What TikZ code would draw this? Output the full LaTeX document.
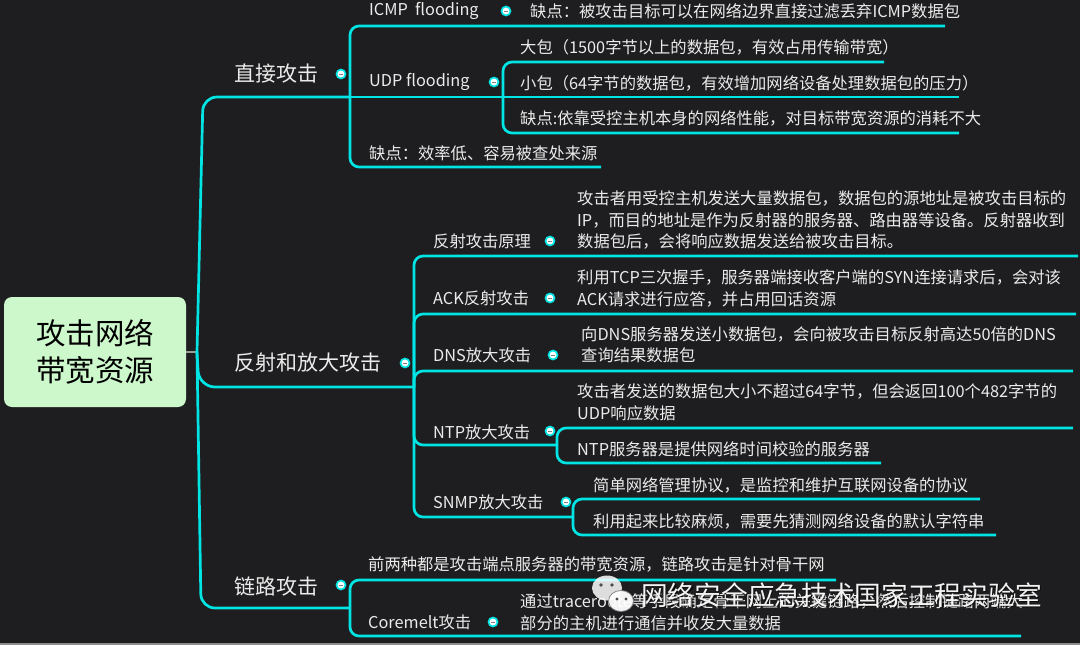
\documentclass[tikz,border=0pt]{standalone}
\usepackage{fontspec}
\setmainfont{Noto Sans CJK SC}
\usetikzlibrary{calc}
\definecolor{bg}{RGB}{30,30,32}
\definecolor{cy}{RGB}{0,228,228}
\definecolor{tx}{RGB}{235,235,235}
\definecolor{rootg}{RGB}{204,248,204}
\begin{document}
\begin{tikzpicture}[x=1pt,y=-1pt,
 br/.style={draw=cy,line width=2.7pt,rounded corners=9pt},
 lvone/.style={text=tx,font=\fontsize{21}{26}\selectfont,anchor=west,inner sep=0pt},
 lvtwo/.style={text=tx,font=\fontsize{16.3}{21.5}\selectfont,anchor=west,inner sep=0pt,align=left},
 wmark/.style={anchor=west,inner sep=0pt,font=\fontsize{26.7}{30}\selectfont},
 knob/.style={circle,fill=white,draw=cy,line width=1.7pt,minimum size=9pt,inner sep=0pt,
   path picture={\draw[gray,line width=0.8pt] ([xshift=-1.8pt]path picture bounding box.center) -- ([xshift=1.8pt]path picture bounding box.center);}}]
\useasboundingbox (0,0) rectangle (1080,645);
\fill[bg] (0,0) rectangle (1080,645);
\fill[black!45] (0,642.5) rectangle (1080,645);

% root
\node[fill=rootg,rounded corners=8pt,minimum width=182pt,minimum height=110pt,inner sep=0pt,
  align=center,font=\fontsize{29.5}{37}\selectfont,text=black] (root) at (95,352) {攻击网络\\带宽资源};

% junction coordinates
\coordinate (trunk) at (197,352);
\coordinate (b1) at (350,97);
\coordinate (bU) at (503,97);
\coordinate (b2) at (414,387);
\coordinate (bN) at (557,445);
\coordinate (bS) at (573,517);
\coordinate (b3) at (350,608);

\draw[line width=2pt,draw=gray!70!rootg] (root.east) -- (trunk);
\draw[br,rounded corners=14pt] (trunk) -- (203,97) -- (b1);
\draw[br,rounded corners=14pt] (trunk) -- (201,608) -- (b3);
\draw[br,rounded corners=16pt] (trunk) -- (199,387) -- (b2);

% direct attack bracket
\draw[br] (b1) -- (350,26) -- (945,26);
\draw[br] (b1) -- (bU);
\draw[br] (b1) -- (350,167) -- (601,167);
\draw[br] (bU) -- (503,62) -- (884,62);
\draw[br] (bU) -- (959,97);
\draw[br] (bU) -- (503,133) -- (959,133);

% reflection bracket
\draw[br] (b2) -- (414,256) -- (1078,256);
\draw[br] (b2) -- (414,314) -- (1076,314);
\draw[br] (b2) -- (414,371) -- (1073,371);
\draw[br] (b2) -- (414,445) -- (bN);
\draw[br] (b2) -- (414,517) -- (bS);
\draw[br] (bN) -- (557,428) -- (1073,428);
\draw[br] (bN) -- (557,463) -- (881,463);
\draw[br] (bS) -- (573,499) -- (980,499);
\draw[br] (bS) -- (573,535) -- (996,535);

% link bracket
\draw[br] (b3) -- (350,580) -- (836,580);
\draw[br] (b3) -- (350,636) -- (1021,636);

% level 1
\node[lvone] (direct) at (234,74) {直接攻击};
\node[lvone] (refl) at (234,363) {反射和放大攻击};
\node[lvone] (link) at (234,587) {链路攻击};
\node[knob] (kdirect) at (341,74) {};
\node[knob] (krefl) at (405,363) {};
\node[knob] (klink) at (341,585) {};

% level 2
\node[lvtwo] (icmp) at (369,11) {ICMP\ \ flooding};
\node[knob] (kicmp) at (506,11) {};
\node[lvtwo] (udp) at (369,82) {UDP flooding};
\node[knob] (kudp) at (494,82) {};
\node[lvtwo] (dweak) at (369,153) {缺点：效率低、容易被查处来源};
\node[lvtwo] (rprin) at (433,241) {反射攻击原理};
\node[knob] (krprin) at (550,241) {};
\node[lvtwo] (ack) at (433,298) {ACK反射攻击};
\node[knob] (kack) at (550,298) {};
\node[lvtwo] (dns) at (433,355) {DNS放大攻击};
\node[knob] (kdns) at (553,355) {};
\node[lvtwo] (ntp) at (433,432) {NTP放大攻击};
\node[knob] (kntp) at (550,431) {};
\node[lvtwo] (snmp) at (433,502) {SNMP放大攻击};
\node[knob] (ksnmp) at (566,502) {};
\node[lvtwo] (prev) at (368,564) {前两种都是攻击端点服务器的带宽资源，链路攻击是针对骨干网};
\node[lvtwo] (core) at (368,622) {Coremelt攻击};
\node[knob] (kcore) at (493,622) {};

% level 3
\node[lvtwo] (icmpc) at (530,11) {缺点：被攻击目标可以在网络边界直接过滤丢弃ICMP数据包};
\node[lvtwo] (big) at (520,47) {大包（1500字节以上的数据包，有效占用传输带宽）};
\node[lvtwo] (small) at (520,83) {小包（64字节的数据包，有效增加网络设备处理数据包的压力）};
\node[lvtwo] (uweak) at (520,118) {缺点:依靠受控主机本身的网络性能，对目标带宽资源的消耗不大};
\node[lvtwo] (rprinc) at (577,220) {攻击者用受控主机发送大量数据包，数据包的源地址是被攻击目标的\\IP，而目的地址是作为反射器的服务器、路由器等设备。反射器收到\\数据包后，会将响应数据发送给被攻击目标。};
\node[lvtwo] (ackc) at (577,288.5) {利用TCP三次握手，服务器端接收客户端的SYN连接请求后，会对该\\ACK请求进行应答，并占用回话资源};
\node[lvtwo] (dnsc) at (581,345) {向DNS服务器发送小数据包，会向被攻击目标反射高达50倍的DNS\\查询结果数据包};
\node[lvtwo] (ntpa) at (577,402.5) {攻击者发送的数据包大小不超过64字节，但会返回100个482字节的\\UDP响应数据};
\node[lvtwo] (ntpb) at (577,449) {NTP服务器是提供网络时间校验的服务器};
\node[lvtwo] (snmpa) at (593,485) {简单网络管理协议，是监控和维护互联网设备的协议};
\node[lvtwo] (snmpb) at (593,521) {利用起来比较麻烦，需要先猜测网络设备的默认字符串};
\node[lvtwo] (corec) at (520,612.5) {通过traceroute等手段确定骨干网上的关键链路，然后控制链路两端大\\部分的主机进行通信并收发大量数据};

% watermark
\fill[white,opacity=0.85] (607,588) ellipse (15 and 12.5);
\fill[black!70] (601,585) circle (1.9) (612,585) circle (1.9);
\filldraw[fill=white,draw=black!50,line width=0.8pt,opacity=0.95] (621,601) ellipse (12.5 and 10.5);
\fill[black!70] (617,599) circle (1.6) (626,599) circle (1.6);
\node[wmark,text=black,opacity=0.55] (wmshadow) at (642.2,596.2) {网络安全应急技术国家工程实验室};
\node[wmark,text=white,opacity=0.95] (wm) at (641,595) {网络安全应急技术国家工程实验室};
\end{tikzpicture}
\end{document}
